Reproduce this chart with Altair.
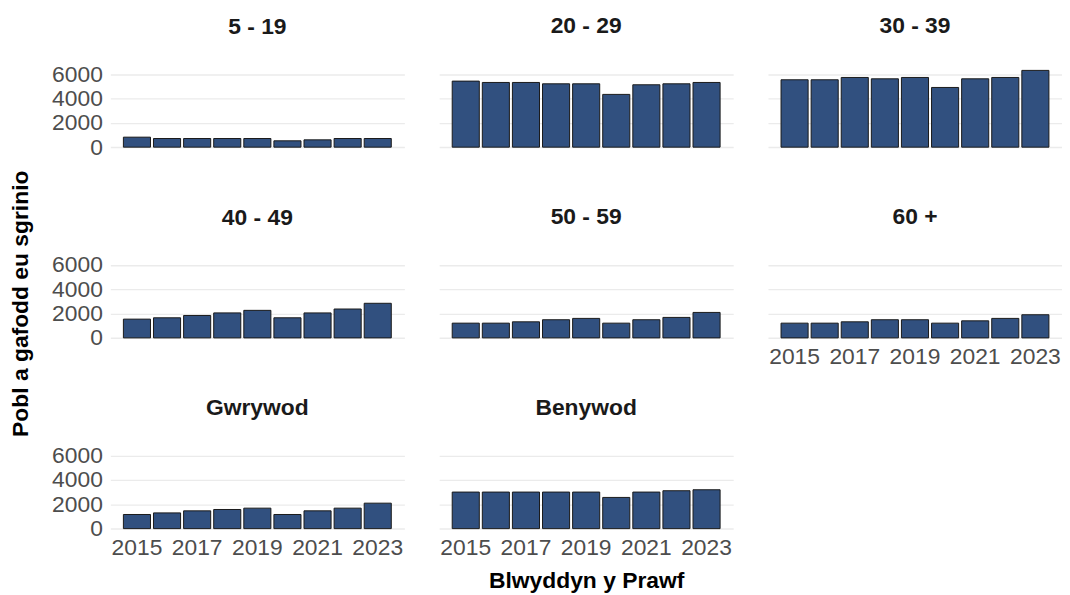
import altair as alt
import pandas as pd

years = [2015, 2016, 2017, 2018, 2019, 2020, 2021, 2022, 2023]
tick_years = [2015, 2017, 2019, 2021, 2023]
groups = ["5 - 19", "20 - 29", "30 - 39", "40 - 49", "50 - 59", "60 +", "Gwrywod", "Benywod"]

v_5_19 = [820, 710, 710, 710, 710, 520, 600, 710, 710]
v_20_29 = [5420, 5310, 5310, 5200, 5200, 4330, 5120, 5200, 5310]
v_30_39 = [5530, 5530, 5720, 5610, 5720, 4900, 5610, 5720, 6300]
v_40_49 = [1540, 1650, 1840, 2050, 2260, 1650, 2050, 2370, 2840]
v_50_59 = [1210, 1210, 1320, 1490, 1600, 1210, 1490, 1680, 2090]
v_60_plus = [1210, 1210, 1320, 1490, 1490, 1210, 1400, 1600, 1900]
v_gwrywod = [1160, 1290, 1460, 1570, 1680, 1160, 1460, 1680, 2090]
v_benywod = [3000, 3000, 3000, 3000, 3000, 2560, 3000, 3110, 3190]

series = [v_5_19, v_20_29, v_30_39, v_40_49, v_50_59, v_60_plus, v_gwrywod, v_benywod]

rows = []
for g, vals in zip(groups, series):
    for yr, v in zip(years, vals):
        rows.append({"group": g, "year": yr, "value": v})
df = pd.DataFrame(rows)

FONT = "Liberation Sans"
LABEL = "#4d4d4d"
BAR = "#31507f"
W, H = 296, 85

# name, show y labels, show x labels, x title
layout = [
    ("5 - 19", True, False, False),
    ("20 - 29", False, False, False),
    ("30 - 39", False, False, False),
    ("40 - 49", True, False, False),
    ("50 - 59", False, False, False),
    ("60 +", False, True, False),
    ("Gwrywod", True, True, False),
    ("Benywod", False, True, True),
]


def panel(name, ylab, xlab, xtitle):
    xaxis = alt.Axis(values=tick_years, labelAngle=0, ticks=False, domain=False, grid=False,
                     labelFontSize=23, labelColor=LABEL, labelFont=FONT, labelPadding=4,
                     labelOpacity=(1 if xlab else 0),
                     titleFont=FONT, titleFontSize=23, titleFontWeight="bold",
                     titleColor="#000000", titlePadding=10)
    yaxis = alt.Axis(values=[0, 2000, 4000, 6000], format="d", grid=True, gridColor="#ebebeb",
                     gridWidth=1.3, domain=False, ticks=False, labels=ylab, labelFontSize=23,
                     labelColor=LABEL, labelFont=FONT, labelPadding=8)
    x = alt.X("year:O", scale=alt.Scale(paddingInner=0.1, paddingOuter=0.4345), axis=xaxis,
              title=("Blwyddyn y Prawf" if xtitle else None))
    y = alt.Y("value:Q", scale=alt.Scale(domain=[-315, 6615], nice=False, zero=False), axis=yaxis,
              title=None)
    return (
        alt.Chart(df)
        .transform_filter(alt.datum.group == name)
        .mark_bar(fill=BAR, stroke="#1a1a1a", strokeWidth=1)
        .encode(x=x, y=y, y2=alt.datum(0))
        .properties(
            width=W,
            height=H,
            title=alt.TitleParams(text=name, frame="group", anchor="middle", baseline="alphabetic",
                                  offset=(6.5 if ylab else 10.5), fontSize=23, font=FONT,
                                  fontWeight="bold", color="#1a1a1a"),
        )
    )


panels = [panel(*p) for p in layout]

chart = (
    alt.concat(*panels, columns=3, spacing={"row": 28, "column": 35})
    .properties(
        padding={"left": 1, "top": 5, "right": 0, "bottom": 0},
        title=alt.TitleParams(text="Pobl a gafodd eu sgrinio", orient="left", anchor="middle",
                              offset=19, fontSize=23, font=FONT, fontWeight="bold",
                              color="#000000"),
    )
    .configure_view(stroke=None)
)

chart.save("out.html", embed_options={"renderer": "svg", "actions": False})
